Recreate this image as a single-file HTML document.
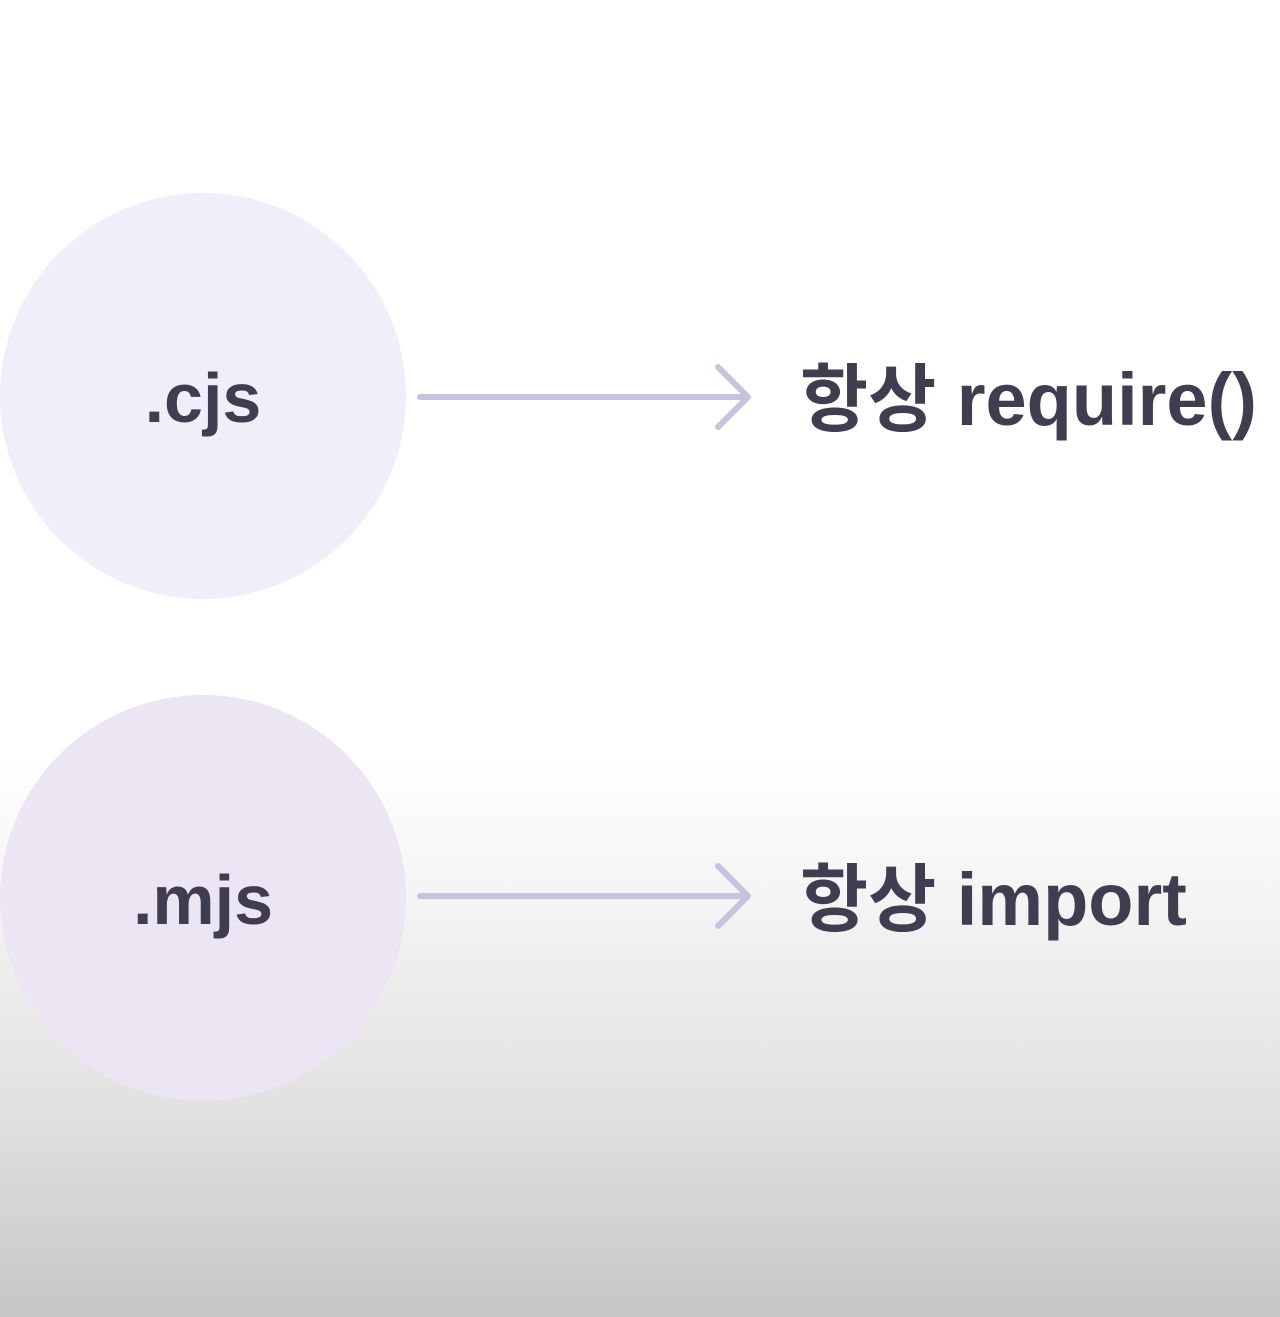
<!DOCTYPE html>
<html><head><meta charset="utf-8"><style>
html,body{margin:0;padding:0}
body{width:1280px;height:1317px;position:relative;overflow:hidden;
background:linear-gradient(to bottom,#ffffff 0px,#ffffff 760px,#f4f4f4 900px,#e2e2e2 1100px,#c6c6c6 1317px);
font-family:"Liberation Sans","Noto Sans CJK KR",sans-serif;}
.c{position:absolute;left:0;width:406px;height:406px;border-radius:50%;}
.t{position:absolute;font-weight:bold;color:#3f3d50;white-space:nowrap}
svg{position:absolute;left:0;top:0}
</style></head><body>
<div class="c" style="top:193px;background:#f2eef9"></div>
<div class="c" style="top:695px;background:#ebe5f4"></div>
<div class="t" style="left:0;width:406px;text-align:center;top:358px;font-size:70px">.cjs</div>
<div class="t" style="left:0;width:406px;text-align:center;top:860px;font-size:70px">.mjs</div>
<svg width="1280" height="1317">
<g stroke="#c8c2df" stroke-width="6" fill="none" stroke-linecap="round" stroke-linejoin="round">
<line x1="420" y1="397" x2="747" y2="397"/>
<polyline points="718,367 748,397 718,427"/>
<line x1="420" y1="896" x2="747" y2="896"/>
<polyline points="718,866 748,896 718,926"/>
</g></svg>
<div class="t" style="left:800px;top:340px;font-size:74px;letter-spacing:0px">항상 require()</div>
<div class="t" style="left:800px;top:840px;font-size:74px;letter-spacing:0px">항상 import</div>
</body></html>
